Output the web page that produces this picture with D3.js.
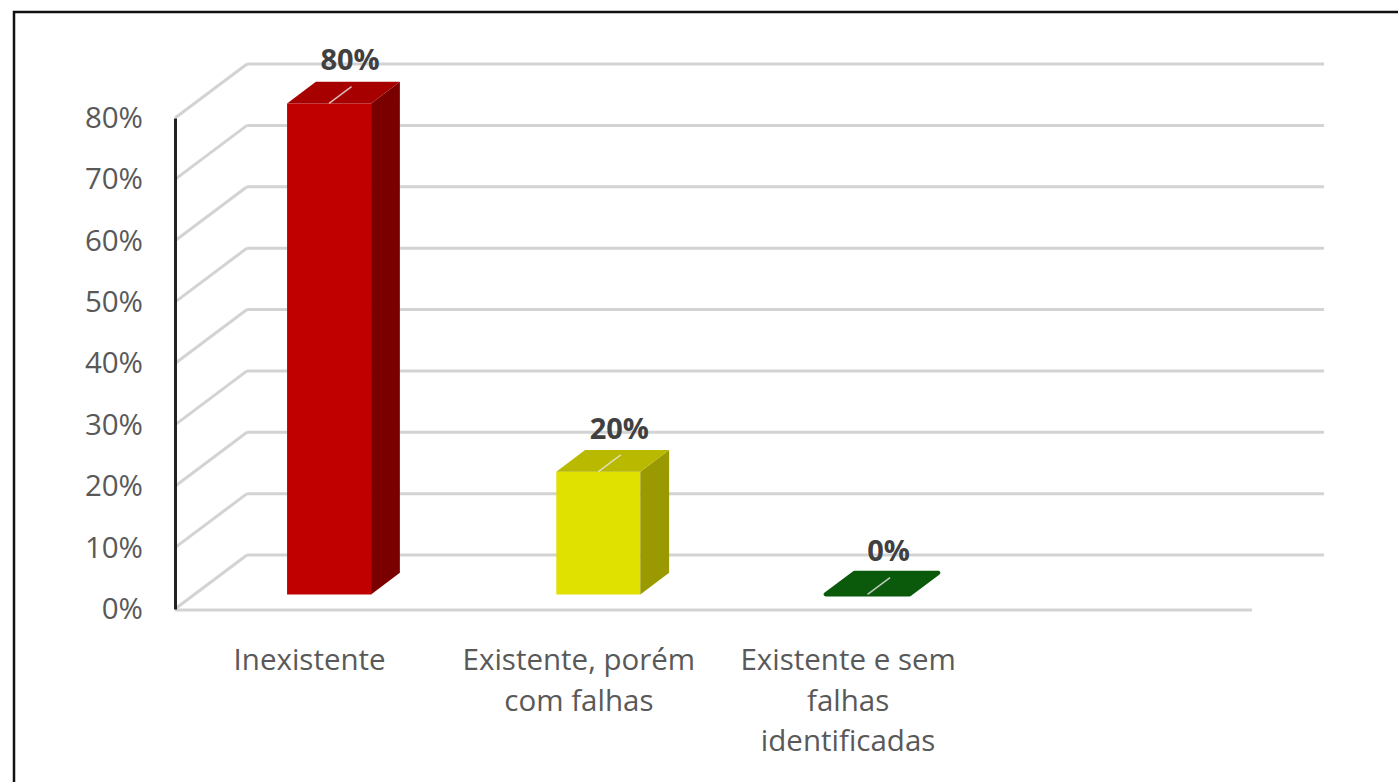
<!DOCTYPE html>
<html>
<head>
<meta charset="utf-8">
<script src="https://cdn.jsdelivr.net/npm/d3@7"></script>
<style>
  body { margin: 0; background: #fff; }
  svg { display: block; font-family: "Open Sans", sans-serif; }
</style>
</head>
<body>
<svg id="chart" width="1398" height="782"></svg>
<script>
// chart data
const categories = ["Inexistente", "Existente, porém com falhas", "Existente e sem falhas identificadas"];
const categoryLines = [["Inexistente"], ["Existente, porém", "com falhas"], ["Existente e sem", "falhas", "identificadas"]];
const values = [80, 20, 0];
const yTicks = [0, 10, 20, 30, 40, 50, 60, 70, 80];
const frontColors = ["#c00000", "#e1e100", "#0b5a0b"];
const sideColors = ["#7a0000", "#9a9a00", "#063806"];
const topColors = ["#a60000", "#b9b900", "#0b5a0b"];

// excel leaves an empty 4th slot on the floor
const slots = [...categories, ""];

const svg = d3.select("#chart");

// depth vector of the 3d box and where the bars sit inside it
const DX = 72, DY = -54;
const d0 = 0.27, d1 = 0.67;

const x = d3.scaleBand().domain(slots).range([175, 1252]);
const y = d3.scaleLinear().domain([0, 80]).range([609, 118]);
const barW = x.step() * 0.312;

function proj(px, v, d) {
    return [px + d * DX, y(v) + d * DY];
}
const poly = pts => "M" + pts.map(p => p.join(",")).join("L") + "Z";

//frame round the chart
svg.append("rect")
    .attr("x", 14).attr("y", 12)
    .attr("width", 1420).attr("height", 820)
    .attr("fill", "none")
    .attr("stroke", "#111")
    .attr("stroke-width", 2.5);

//gridlines on back wall and side wall
const grid = svg.append("g")
    .attr("stroke", "#d3d3d3")
    .attr("stroke-width", 3)
    .attr("fill", "none");

grid.selectAll(".back")
    .data(yTicks)
    .join("line")
        .attr("x1", v => proj(x.range()[0], v, 1)[0])
        .attr("y1", v => proj(x.range()[0], v, 1)[1])
        .attr("x2", v => proj(x.range()[1], v, 1)[0])
        .attr("y2", v => proj(x.range()[1], v, 1)[1]);

grid.selectAll(".side")
    .data(yTicks)
    .join("line")
        .attr("x1", v => proj(x.range()[0], v, 0)[0])
        .attr("y1", v => proj(x.range()[0], v, 0)[1])
        .attr("x2", v => proj(x.range()[0], v, 1)[0])
        .attr("y2", v => proj(x.range()[0], v, 1)[1]);

//floor front edge
grid.append("line")
    .attr("x1", x.range()[0]).attr("y1", y(0) + 1)
    .attr("x2", x.range()[1]).attr("y2", y(0) + 1);

//y axis
const yAxis = svg.append("g")
    .attr("transform", `translate(${x.range()[0]},0)`)
    .call(d3.axisLeft(y).tickValues(yTicks).tickFormat(d => d + "%").tickSize(0).tickPadding(32));
yAxis.select(".domain")
    .attr("stroke", "#222")
    .attr("stroke-width", 3);
yAxis.selectAll("text")
    .attr("fill", "#595959")
    .style("font-size", "29.5px")
    .style("font-family", "'Open Sans', sans-serif");

//bars
const bars = svg.append("g")
    .selectAll("g")
    .data(categories.map((c, i) => ({name: c, value: values[i], i: i})))
    .join("g");

bars.each(function(d) {
    const g = d3.select(this);
    const xl = x(d.name) + x.bandwidth() / 2 - barW / 2;
    const xr = xl + barW;
    if (d.value > 0) {
        g.append("path")
            .attr("d", poly([proj(xl, 0, d0), proj(xr, 0, d0), proj(xr, d.value, d0), proj(xl, d.value, d0)]))
            .attr("fill", frontColors[d.i]);
        g.append("path")
            .attr("d", poly([proj(xr, 0, d0), proj(xr, 0, d1), proj(xr, d.value, d1), proj(xr, d.value, d0)]))
            .attr("fill", sideColors[d.i]);
    }
    g.append("path")
        .attr("d", poly([proj(xl, d.value, d0), proj(xr, d.value, d0), proj(xr, d.value, d1), proj(xl, d.value, d1)]))
        .attr("fill", topColors[d.i])
        .attr("stroke", d.value > 0 ? "none" : topColors[d.i])
        .attr("stroke-width", 4)
        .attr("stroke-linejoin", "round");

    //leader line from bar top to label
    const cx = (xl + xr) / 2;
    const a = proj(cx, d.value, d0);
    const b = proj(cx, d.value, d0 + (d1 - d0) * 0.78);
    g.append("line")
        .attr("x1", a[0]).attr("y1", a[1])
        .attr("x2", b[0]).attr("y2", b[1])
        .attr("stroke", "#e6e6e6")
        .attr("stroke-opacity", 0.8)
        .attr("stroke-width", 1.6);

    g.append("text")
        .attr("x", a[0] + 21)
        .attr("y", a[1] - 33)
        .attr("text-anchor", "middle")
        .attr("fill", "#404040")
        .style("font-size", "29px")
        .style("font-weight", "bold")
        .text(d.value + "%");
});

//category labels
svg.append("g")
    .selectAll("text")
    .data(categories.map((c, i) => ({name: c, lines: categoryLines[i]})))
    .join("text")
        .attr("x", d => x(d.name) + x.bandwidth() / 2)
        .attr("y", 670)
        .attr("text-anchor", "middle")
        .attr("fill", "#595959")
        .style("font-size", "29.5px")
        .selectAll("tspan")
        .data(d => d.lines)
        .join("tspan")
            .attr("x", function() { return this.parentNode.getAttribute("x"); })
            .attr("dy", (l, i) => i === 0 ? 0 : 40.5)
            .text(l => l);
</script>
</body>
</html>
